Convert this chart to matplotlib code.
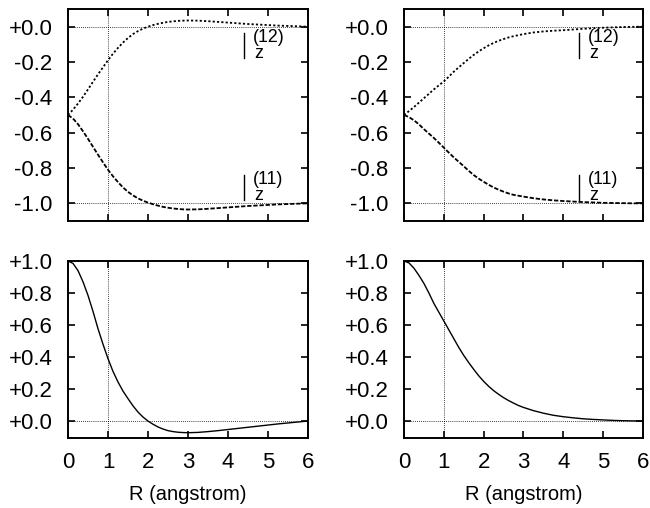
import numpy as np
import matplotlib
matplotlib.use("Agg")
import matplotlib.pyplot as plt

plt.rcParams['font.family'] = ['Liberation Sans', 'DejaVu Sans']

R = [0.0, 0.125, 0.25, 0.375, 0.5, 0.625, 0.75, 0.875, 1.0, 1.125, 1.25, 1.375, 1.5,
     1.625, 1.75, 1.875, 2.0, 2.125, 2.25, 2.375, 2.5, 2.625, 2.75, 2.875, 3.0,
     3.25, 3.5, 3.75, 4.0, 4.25, 4.5, 4.75, 5.0, 5.25, 5.5, 5.75, 6.0]

z12_left = [-0.5, -0.47, -0.435, -0.397, -0.355, -0.312, -0.27, -0.23, -0.19, -0.153,
            -0.12, -0.09, -0.064, -0.042, -0.025, -0.011, 0.0, 0.009, 0.016, 0.022,
            0.027, 0.03, 0.033, 0.034, 0.035,
            0.034, 0.031, 0.027, 0.023, 0.019, 0.015, 0.012, 0.009, 0.006, 0.004, 0.002, 0.0]
z11_left = [-0.5, -0.52, -0.552, -0.592, -0.635, -0.68, -0.725, -0.768, -0.81, -0.847,
            -0.88, -0.91, -0.935, -0.955, -0.972, -0.985, -0.996, -1.005, -1.013, -1.02,
            -1.025, -1.029, -1.032, -1.034, -1.035,
            -1.034, -1.031, -1.027, -1.023, -1.019, -1.015, -1.012, -1.009, -1.006, -1.004,
            -1.002, -1.0]
z12_right = [-0.5, -0.478, -0.455, -0.43, -0.405, -0.38, -0.355, -0.332, -0.31, -0.283,
             -0.255, -0.23, -0.206, -0.182, -0.16, -0.14, -0.122, -0.106, -0.092, -0.08,
             -0.07, -0.061, -0.054, -0.048, -0.042,
             -0.033, -0.027, -0.023, -0.02, -0.016, -0.012, -0.009, -0.006, -0.004, -0.002,
             -0.001, 0.0]
z11_right = [-0.5, -0.512, -0.53, -0.553, -0.58, -0.605, -0.63, -0.657, -0.685, -0.713,
             -0.74, -0.765, -0.79, -0.816, -0.84, -0.86, -0.878, -0.895, -0.91, -0.923,
             -0.934, -0.944, -0.952, -0.957, -0.962,
             -0.971, -0.978, -0.983, -0.987, -0.99, -0.993, -0.995, -0.997, -0.998, -0.999,
             -1.0, -1.0]
bottom_left = [1.0, 0.985, 0.94, 0.87, 0.785, 0.685, 0.577, 0.48, 0.39, 0.31,
               0.244, 0.187, 0.14, 0.095, 0.056, 0.025, 0.0, -0.02, -0.037, -0.05,
               -0.06, -0.066, -0.07, -0.072, -0.073,
               -0.071, -0.066, -0.06, -0.053, -0.046, -0.039, -0.032, -0.025, -0.018,
               -0.012, -0.006, 0.0]
bottom_right = [1.0, 0.988, 0.955, 0.91, 0.86, 0.8, 0.735, 0.68, 0.625, 0.57,
                0.515, 0.46, 0.41, 0.365, 0.323, 0.283, 0.248, 0.217, 0.19, 0.167,
                0.146, 0.128, 0.112, 0.097, 0.085,
                0.065, 0.049, 0.036, 0.027, 0.02, 0.014, 0.01, 0.007, 0.004, 0.002, 0.001, 0.0]

x_ticks = [0, 1, 2, 3, 4, 5, 6]
top_yticks = [0.0, -0.2, -0.4, -0.6, -0.8, -1.0]
top_ylabels = ['+0.0', '-0.2', '-0.4', '-0.6', '-0.8', '-1.0']
bot_yticks = [1.0, 0.8, 0.6, 0.4, 0.2, 0.0]
bot_ylabels = ['+1.0', '+0.8', '+0.6', '+0.4', '+0.2', '+0.0']
xlabel = 'R (angstrom)'

W, H = 650, 508
fig = plt.figure(figsize=(W / 100, H / 100), dpi=100)

def rect(l, r, t, b):
    return [l / W, 1 - b / H, (r - l) / W, (b - t) / H]

ax_tl = fig.add_axes(rect(68, 308, 9, 221))
ax_tr = fig.add_axes(rect(404, 643, 9, 221))
ax_bl = fig.add_axes(rect(68, 308, 261, 438))
ax_br = fig.add_axes(rect(404, 643, 261, 438))

grid_kw = dict(color='black', lw=0.6, ls=(0, (1, 1.5)), zorder=1)

def style(ax, yticks, ylabels, ylim, show_x):
    ax.set_xlim(0, 6)
    ax.set_ylim(*ylim)
    ax.set_xticks(x_ticks)
    ax.set_yticks(yticks)
    ax.set_yticklabels(ylabels)
    ax.tick_params(direction='in', length=5, width=1.2, top=True, right=True,
                   labelsize=16, pad=10, colors='black')
    ax.tick_params(axis='y', pad=11)
    if show_x:
        ax.set_xticklabels([str(t) for t in x_ticks])
        ax.set_xlabel(xlabel, fontsize=14.5, labelpad=9)
    else:
        ax.set_xticklabels([])
    for s in ax.spines.values():
        s.set_linewidth(1.4)
    ax.axvline(1.0, **grid_kw)

ann_fs = 12.8
for ax, z12, z11 in [(ax_tl, z12_left, z11_left), (ax_tr, z12_right, z11_right)]:
    style(ax, top_yticks, top_ylabels, (-1.1, 0.1), False)
    ax.axhline(0.0, **grid_kw)
    ax.axhline(-1.0, **grid_kw)
    ax.plot(R, z12, color='black', lw=1.3, ls=(0, (1.2, 1.2)), zorder=3)
    ax.plot(R, z11, color='black', lw=1.3, ls=(0, (2.4, 1.0)), zorder=3)
    # labels
    ax.plot([4.4, 4.4], [-0.034, -0.176], color='black', lw=1.0)
    ax.text(4.66, -0.176, 'z', fontsize=ann_fs, ha='left', va='baseline')
    ax.text(4.62, -0.063, '(12)', fontsize=ann_fs, ha='left', va='center')
    ax.plot([4.4, 4.4], [-0.84, -0.983], color='black', lw=1.0)
    ax.text(4.66, -0.983, 'z', fontsize=ann_fs, ha='left', va='baseline')
    ax.text(4.62, -0.866, '(11)', fontsize=ann_fs, ha='left', va='center')

for ax, y in [(ax_bl, bottom_left), (ax_br, bottom_right)]:
    style(ax, bot_yticks, bot_ylabels, (-0.106, 1.0), True)
    ax.axhline(0.0, **grid_kw)
    ax.plot(R, y, color='black', lw=1.0, zorder=3)

fig.savefig('out.png', dpi=100)
